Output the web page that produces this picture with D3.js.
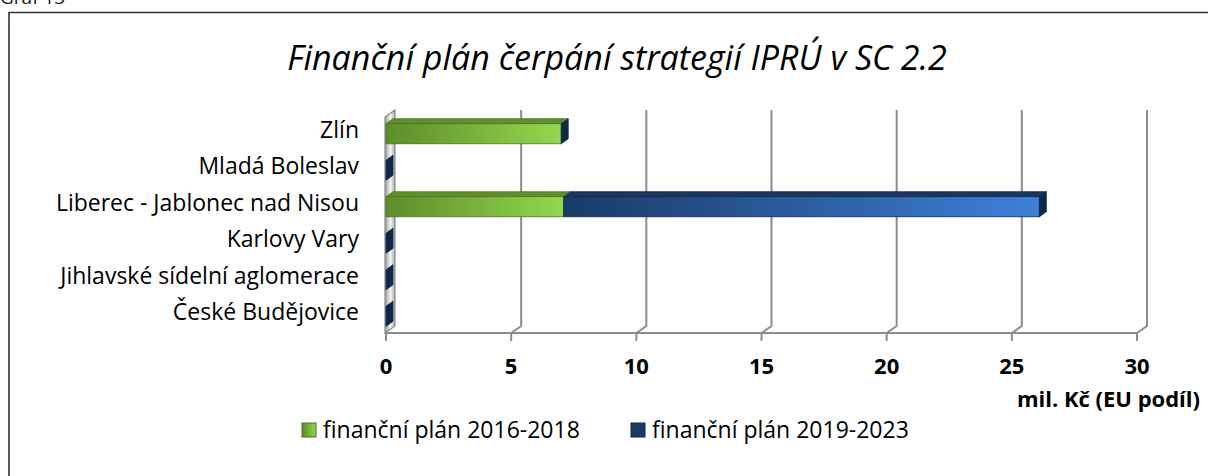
<!DOCTYPE html>
<html>
<head>
<meta charset="utf-8">
<script src="https://cdn.jsdelivr.net/npm/d3@7"></script>
<style>
  body { margin: 0; background: #fff; }
  svg { display: block; }
</style>
</head>
<body>
<div id="chart"></div>
<script>
const categories = [
  "Zlín",
  "Mladá Boleslav",
  "Liberec - Jablonec nad Nisou",
  "Karlovy Vary",
  "Jihlavské sídelní aglomerace",
  "České Budějovice",
];
const plan2016 = [7.0, 0, 7.1, 0, 0, 0];
const plan2019 = [0, 0, 19.0, 0, 0, 0];
const xTicks = [0, 5, 10, 15, 20, 25, 30];
const seriesNames = ["finanční plán 2016-2018", "finanční plán 2019-2023"];

const width = 1208;
const height = 476;
const font = "'Open Sans', sans-serif";

const svg = d3.select("#chart").append("svg").attr("width", width).attr("height", height);

// gradients
const defs = svg.append("defs");
function hGrad(id, c0, c1) {
  const g = defs.append("linearGradient").attr("id", id).attr("x1", "0%").attr("x2", "100%").attr("y1", "0%").attr("y2", "0%");
  g.append("stop").attr("offset", "0%").attr("stop-color", c0);
  g.append("stop").attr("offset", "100%").attr("stop-color", c1);
}
hGrad("gGreen", "#5c8d29", "#93d84e");
hGrad("gBlue", "#1a3a66", "#3e80d9");
const wallGrad = defs.append("linearGradient").attr("id", "gWall").attr("x1", "0%").attr("x2", "100%");
wallGrad.append("stop").attr("offset", "0%").attr("stop-color", "#9a9a9a");
wallGrad.append("stop").attr("offset", "55%").attr("stop-color", "#f4f4f4");
wallGrad.append("stop").attr("offset", "100%").attr("stop-color", "#a8a8a8");

// caption above the frame (mostly outside the picture, as in the reference)
svg.append("text").attr("x", 0).attr("y", 4).attr("font-family", font).attr("font-size", 19).attr("fill", "#222").text("Graf 13");

// outer frame (runs off right and bottom)
svg.append("path")
  .attr("d", `M9,${height + 2} V12.5 H${width + 2}`)
  .attr("fill", "none")
  .attr("stroke", "#333")
  .attr("stroke-width", 1.6);

// title
svg.append("text")
  .attr("x", 617)
  .attr("y", 70)
  .attr("text-anchor", "middle")
  .attr("font-family", font)
  .attr("font-style", "italic")
  .attr("font-size", 34)
  .attr("fill", "#000")
  .text("Finanční plán čerpání strategií IPRÚ v SC 2.2");

// scales
const x = d3.scaleLinear().domain([0, 30]).range([386, 1137]);
const y = d3.scaleBand().domain(categories).range([115.5, 334.5]).paddingInner(0.45).paddingOuter(0.225);

const floorY = 333;
const depthX = 10, depthY = -7;
const topY = 110;
const gridColor = "#8c8c8c";

// gridlines on back wall + floor diagonals + ticks
const grid = svg.append("g");
xTicks.forEach((t) => {
  const fx = x(t);
  if (t > 0) {
    grid.append("path")
      .attr("d", `M${fx},${floorY} L${fx + depthX},${floorY + depthY} V${topY}`)
      .attr("fill", "none").attr("stroke", gridColor).attr("stroke-width", 2);
  }
  grid.append("line")
    .attr("x1", fx).attr("x2", fx).attr("y1", floorY).attr("y2", floorY + 8)
    .attr("stroke", gridColor).attr("stroke-width", 2);
});
grid.append("line")
  .attr("x1", x(0)).attr("x2", x(30)).attr("y1", floorY).attr("y2", floorY)
  .attr("stroke", gridColor).attr("stroke-width", 2);

// left wall (3D slab)
const wx = x(0) - 1;
svg.append("path")
  .attr("d", `M${wx},${floorY} V${topY - depthY} L${wx + depthX},${topY} V${floorY + depthY} Z`)
  .attr("fill", "url(#gWall)")
  .attr("stroke", "#8a8a8a")
  .attr("stroke-width", 1.2);

// bars
const bx = 7, by = -5;
const series = [
  { name: seriesNames[0], values: plan2016, front: "url(#gGreen)", top: "#5f8f2c", side: "#4c7a1f", stroke: "#4a7420" },
  { name: seriesNames[1], values: plan2019, front: "url(#gBlue)", top: "#1c375c", side: "#0f284a", stroke: "#10284a" },
];
const stacks = categories.map((c, i) => {
  let acc = 0;
  return series.map((s) => {
    const v0 = acc;
    acc += s.values[i];
    return { cat: c, s, v0, v1: acc };
  });
});

const barsG = svg.append("g");
stacks.forEach((segs) => {
  segs.forEach((d, k) => {
    const x0 = x(d.v0), x1 = x(d.v1);
    const yt = y(d.cat), h = y.bandwidth();
    const g = barsG.append("g");
    if (x1 - x0 > 0.5) {
      g.append("path")
        .attr("d", `M${x0},${yt} L${x1},${yt} L${x1 + bx},${yt + by} L${x0 + bx},${yt + by} Z`)
        .attr("fill", d.s.top).attr("stroke", d.s.stroke).attr("stroke-width", 0.8);
      g.append("rect")
        .attr("x", x0).attr("y", yt).attr("width", x1 - x0).attr("height", h)
        .attr("fill", d.s.front).attr("stroke", d.s.stroke).attr("stroke-width", 0.8);
    }
    // right side face only for the last visible end
    if (k === segs.length - 1) {
      g.append("path")
        .attr("d", `M${x1},${yt} L${x1 + bx},${yt + by} L${x1 + bx},${yt + by + h} L${x1},${yt + h} Z`)
        .attr("fill", d.s.side).attr("stroke", d.s.stroke).attr("stroke-width", 0.8);
    }
  });
});

// category labels
svg.append("g").selectAll("text")
  .data(categories)
  .join("text")
  .attr("x", 359)
  .attr("y", (d) => y(d) + y.bandwidth() / 2 - 4)
  .attr("dy", "0.35em")
  .attr("text-anchor", "end")
  .attr("font-family", font)
  .attr("font-size", 23)
  .attr("fill", "#000")
  .text((d) => d);

// x tick labels
svg.append("g").selectAll("text")
  .data(xTicks)
  .join("text")
  .attr("x", (d) => x(d))
  .attr("y", 374)
  .attr("text-anchor", "middle")
  .attr("font-family", font)
  .attr("font-weight", "bold")
  .attr("font-size", 22)
  .attr("fill", "#000")
  .text((d) => d);

// axis title
svg.append("text")
  .attr("x", 1200)
  .attr("y", 407)
  .attr("text-anchor", "end")
  .attr("font-family", font)
  .attr("font-weight", "bold")
  .attr("font-size", 22)
  .attr("fill", "#000")
  .text("mil. Kč (EU podíl)");

// legend
const legendX = [302, 631];
const legend = svg.append("g").selectAll("g")
  .data(series)
  .join("g")
  .attr("transform", (d, i) => `translate(${legendX[i]}, 423)`);
legend.append("rect")
  .attr("width", 14).attr("height", 14)
  .attr("fill", (d, i) => (i === 0 ? "url(#gGreen)" : "#1c3a62"))
  .attr("stroke", (d) => d.stroke).attr("stroke-width", 1);
legend.append("text")
  .attr("x", 21)
  .attr("y", 7)
  .attr("dy", "0.35em")
  .attr("font-family", font)
  .attr("font-size", 23)
  .attr("fill", "#000")
  .text((d) => d.name);
</script>
</body>
</html>
